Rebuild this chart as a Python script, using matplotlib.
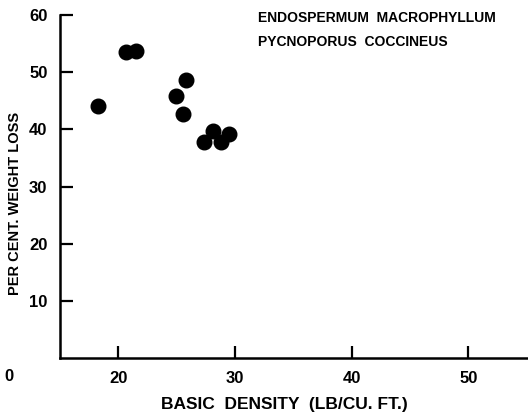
import matplotlib
matplotlib.use('Agg')
import matplotlib.pyplot as plt

# basic density (lb/cu. ft) vs per cent weight loss
density = [18.3, 20.7, 21.5, 25.8, 24.9, 25.5, 27.3, 28.1, 28.8, 29.5]
weight_loss = [44.1, 53.5, 53.7, 48.6, 45.8, 42.7, 37.8, 39.7, 37.8, 39.2]

x_ticks = [20, 30, 40, 50]
y_ticks = [10, 20, 30, 40, 50, 60]

plt.rcParams['font.family'] = ['Liberation Sans', 'DejaVu Sans']
plt.rcParams['font.weight'] = 'bold'
plt.rcParams['axes.labelweight'] = 'bold'

fig = plt.figure(figsize=(5.28, 4.15), dpi=100)
ax = fig.add_axes([0.1136, 0.1373, 0.884, 0.8265])

ax.plot(density, weight_loss, 'o', color='black', markersize=10.5)

ax.set_xlim(15, 55)
ax.set_ylim(0, 60)
ax.set_xticks(x_ticks)
ax.set_yticks(y_ticks)
ax.tick_params(direction='in', length=9, width=1.6, labelsize=12, pad=9)
for side in ['top', 'right']:
    ax.spines[side].set_visible(False)
for side in ['left', 'bottom']:
    ax.spines[side].set_linewidth(1.8)

ax.text(-0.11, -0.055, '0', transform=ax.transAxes, fontsize=12,
        fontweight='bold', ha='center', va='center')

ax.set_xlabel('BASIC  DENSITY  (LB/CU. FT.)', fontsize=12.5, labelpad=7)
ax.xaxis.set_label_coords(0.48, -0.115)
ax.set_ylabel('PER CENT. WEIGHT LOSS', fontsize=10.5)
ax.yaxis.set_label_coords(-0.082, 0.45)

ax.text(0.425, 1.012, 'ENDOSPERMUM  MACROPHYLLUM\nPYCNOPORUS  COCCINEUS',
        transform=ax.transAxes, fontsize=10, ha='left', va='top',
        linespacing=1.9)

fig.savefig('out.png', dpi=100)
